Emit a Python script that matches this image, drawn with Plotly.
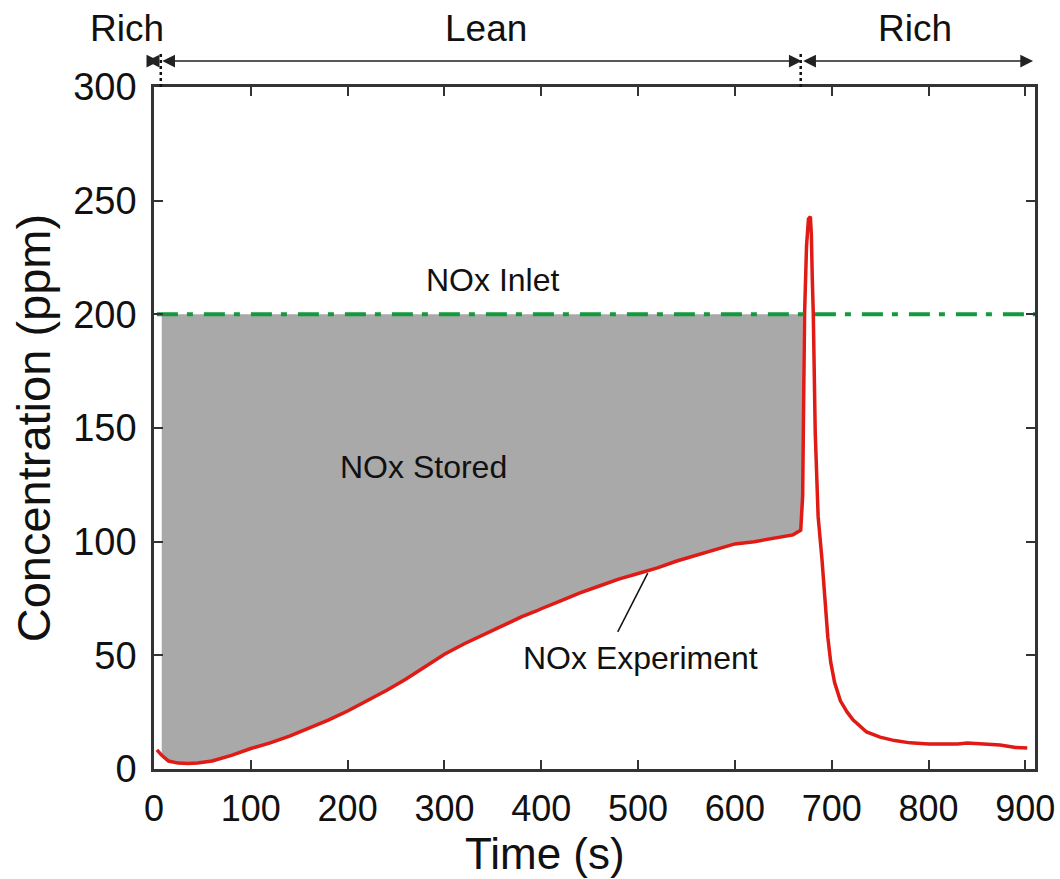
import plotly.graph_objects as go

# Measured NOx outlet concentration over one lean/rich cycle
time_s = [3, 8, 15, 25, 35, 45, 60, 80, 100, 120, 140, 160, 180, 200, 220, 240,
          260, 280, 300, 320, 340, 360, 380, 395, 400, 420, 440, 460, 480, 500,
          520, 540, 560, 580, 600, 620, 640, 660, 668, 670, 671, 672, 674, 676,
          678, 679, 680, 681, 683, 686, 690, 693, 696, 699, 703, 709, 716, 722,
          729, 736, 750, 765, 781, 800, 815, 830, 840, 860, 874, 890, 902]
nox_ppm = [8.4, 6.0, 3.5, 2.6, 2.4, 2.6, 3.5, 6.0, 9.0, 11.5, 14.5, 18.0, 21.5,
           25.5, 30.0, 34.5, 39.5, 45.0, 50.5, 55.0, 59.0, 63.0, 67.0, 69.5, 70.5,
           74.0, 77.5, 80.5, 83.5, 86.0, 88.5, 91.5, 94.0, 96.5, 99.0, 100.0,
           101.5, 103.0, 105.0, 120.0, 160.0, 200.0, 230.0, 242.0, 243.0, 235.0,
           215.0, 200.0, 148.0, 111.0, 92.0, 74.0, 58.0, 47.0, 38.0, 30.0, 25.0,
           21.6, 19.0, 16.3, 14.0, 12.5, 11.5, 11.0, 11.0, 11.0, 11.4, 11.0,
           10.6, 9.5, 9.2]

inlet_ppm = 200
lean_start = 7
lean_end = 669
x_max = 910

# Region between inlet level and measured outlet during the lean phase
stored_x = [t for t in time_s if lean_start - 2 <= t <= lean_end + 1]
stored_y = [v for t, v in zip(time_s, nox_ppm) if lean_start - 2 <= t <= lean_end + 1]
poly_x = stored_x + [stored_x[-1], stored_x[0]]
poly_y = stored_y + [inlet_ppm, inlet_ppm]

FONT = "Liberation Sans, Arial, sans-serif"
AXIS_COL = "#333333"

fig = go.Figure()
fig.add_trace(go.Scatter(x=poly_x, y=poly_y, fill="toself", mode="none",
                         fillcolor="#a9a9a9", hoverinfo="skip", showlegend=False))
fig.add_trace(go.Scatter(x=time_s, y=nox_ppm, mode="lines",
                         line=dict(color="#e01a14", width=3.5), showlegend=False))
fig.add_trace(go.Scatter(x=[3, x_max], y=[inlet_ppm, inlet_ppm], mode="lines",
                         line=dict(color="#139a3c", width=4, dash="21px,9px,6px,11px"),
                         showlegend=False, cliponaxis=False))

annotations = [
    dict(text="NOx Inlet", x=350, y=215, xref="x", yref="y", showarrow=False,
         font=dict(size=32)),
    dict(text="NOx Stored", x=278, y=133, xref="x", yref="y", showarrow=False,
         font=dict(size=32)),
    dict(text="NOx Experiment", x=502, y=49, xref="x", yref="y", showarrow=False,
         font=dict(size=32)),
    # axis titles
    dict(text="Time (s)", x=0.444, y=-0.1235, xref="paper", yref="paper",
         xanchor="center", yanchor="middle", showarrow=False, font=dict(size=44),
         borderpad=0),
    dict(text="Concentration (ppm)", x=-0.137, y=0.5, xref="paper", yref="paper",
         xanchor="center", yanchor="middle", textangle=-90, showarrow=False,
         font=dict(size=47)),
]

# Phase labels above the plot
for label, px in [("Rich", -0.031), ("Lean", 0.377), ("Rich", 0.864)]:
    annotations.append(dict(text=label, x=px, y=1.0865, xref="paper", yref="paper",
                            xanchor="center", yanchor="middle", showarrow=False,
                            font=dict(size=37)))

# Phase arrows above the plot
arrow_y = 1.038
for head, tail in [(-7.5, lean_start), (lean_end, lean_start), (908, lean_end)]:
    annotations.append(dict(x=head, y=arrow_y, xref="x", yref="paper",
                            ax=tail, ay=0, axref="x", ayref="pixel",
                            showarrow=True, arrowhead=2, arrowsize=1.7,
                            arrowwidth=1.5, arrowcolor="#222222",
                            arrowside="end+start", text=""))

shapes = [
    dict(type="line", xref="x", yref="paper", x0=lean_start, x1=lean_start,
         y0=1.0, y1=1.052, line=dict(color="#111111", width=2.5, dash="dot")),
    dict(type="line", xref="x", yref="paper", x0=lean_end - 1, x1=lean_end - 1,
         y0=1.0, y1=1.052, line=dict(color="#111111", width=2.5, dash="dot")),
    # leader from label to the measured curve
    dict(type="line", xref="x", yref="y", x0=479, y0=60.3, x1=510, y1=86.2,
         line=dict(color="#111111", width=1.5)),
]

fig.update_layout(
    width=1060, height=879,
    margin=dict(l=154, r=25, t=87, b=110, autoexpand=False),
    paper_bgcolor="white", plot_bgcolor="white",
    font=dict(family=FONT, color="#111111"),
    annotations=annotations, shapes=shapes,
    xaxis=dict(range=[0, x_max], tickvals=list(range(0, 901, 100)),
               ticks="inside", ticklen=9, tickwidth=2, tickcolor=AXIS_COL,
               showline=True, linecolor=AXIS_COL, linewidth=2.5, mirror="ticks",
               showgrid=False, zeroline=False, tickfont=dict(size=36),
               ticklabelstandoff=6, automargin=False),
    yaxis=dict(range=[0, 300], tickvals=list(range(0, 301, 50)),
               ticks="inside", ticklen=9, tickwidth=2, tickcolor=AXIS_COL,
               showline=True, linecolor=AXIS_COL, linewidth=2.5, mirror="ticks",
               showgrid=False, zeroline=False, tickfont=dict(size=38),
               ticklabelstandoff=7, automargin=False),
)

fig.write_html("out.html")
